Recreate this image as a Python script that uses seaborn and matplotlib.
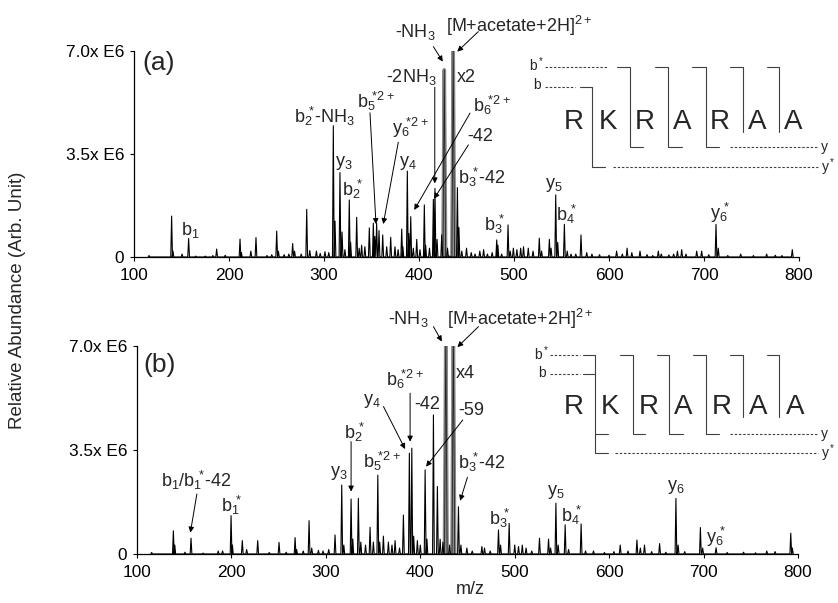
"""Tandem mass spectra of RKRARAA acetate adduct, panels (a) and (b)."""

import matplotlib.pyplot as plt
import seaborn as sns
from matplotlib.lines import Line2D

# ---- panel (a) peaks: m/z and abundance (x 1e6) ----
mz_a = [115.8, 139.6, 141.0, 150.6, 157.5, 165.0, 175.0, 183.0, 187.0, 196.0,
        211.6, 213.0, 223.0, 228.4, 240.0, 245.0, 250.2, 252.0, 258.0, 263.0,
        267.0, 269.0, 276.0, 281.8, 285.0, 292.0, 296.0, 301.0, 305.0, 309.8,
        311.6, 316.8, 319.0, 322.0, 326.6, 328.0, 334.4, 337.0, 339.6, 343.0,
        347.7, 351.9, 353.5, 355.4, 357.9, 361.8, 366.0, 370.2, 374.7, 378.0,
        381.8, 383.0, 387.7, 389.3, 391.3, 394.0, 397.6, 401.0, 405.6, 407.0,
        411.0, 415.1, 416.8, 419.0, 423.9, 430.0, 440.4, 442.0, 445.0, 450.0,
        455.0, 459.0, 464.0, 468.0, 472.0, 477.0, 481.8, 483.0, 487.0, 493.7,
        496.0, 499.3, 503.0, 507.0, 510.0, 515.0, 520.0, 526.6, 529.0, 537.2,
        539.0, 543.9, 546.0, 553.0, 556.0, 560.0, 565.0, 570.5, 576.5, 582.0,
        590.0, 600.0, 608.0, 614.0, 619.0, 624.0, 632.6, 640.0, 646.0, 651.9,
        655.0, 663.0, 668.0, 672.0, 676.5, 681.0, 692.3, 697.5, 705.0, 712.6,
        715.0, 725.0, 738.6, 752.0, 765.9, 775.0, 782.0, 792.9]
int_a = [0.05, 1.39, 0.20, 0.10, 0.63, 0.03, 0.03, 0.05, 0.27, 0.06,
         0.61, 0.15, 0.20, 0.66, 0.05, 0.08, 0.88, 0.20, 0.08, 0.10,
         0.46, 0.20, 0.10, 1.62, 0.22, 0.20, 0.12, 0.18, 0.15, 4.46,
         1.22, 2.87, 0.85, 0.25, 1.94, 0.50, 1.35, 0.30, 0.40, 0.35,
         0.99, 1.15, 0.70, 1.15, 0.90, 0.75, 0.35, 0.67, 0.35, 0.25,
         0.95, 0.35, 2.92, 0.80, 1.37, 0.30, 0.60, 0.25, 1.77, 0.40,
         0.30, 1.96, 2.33, 0.60, 0.75, 0.30, 2.36, 1.00, 0.20, 0.30,
         0.15, 0.10, 0.20, 0.25, 0.10, 0.15, 0.58, 0.40, 0.10, 1.09,
         0.20, 0.30, 0.25, 0.30, 0.35, 0.30, 0.20, 0.64, 0.20, 0.60,
         0.30, 2.11, 0.50, 1.11, 0.20, 0.10, 0.10, 0.75, 0.15, 0.10,
         0.08, 0.06, 0.20, 0.10, 0.30, 0.15, 0.20, 0.08, 0.05, 0.20,
         0.10, 0.07, 0.10, 0.20, 0.25, 0.10, 0.20, 0.20, 0.08, 1.11,
         0.30, 0.05, 0.10, 0.05, 0.10, 0.06, 0.05, 0.25]
# scaled (x2) precursor region, drawn grey
mz_a_scaled = [426.6, 436.0]
int_a_scaled = [6.36, 7.00]

# ---- panel (b) peaks ----
mz_b = [115.5, 138.5, 140.0, 150.8, 157.2, 170.0, 186.0, 190.6, 199.6, 201.0,
        211.5, 216.1, 227.8, 240.0, 250.4, 258.0, 267.4, 269.0, 276.0, 282.2,
        285.0, 292.1, 297.0, 303.0, 309.7, 316.8, 319.0, 326.7, 328.5, 334.4,
        337.0, 342.0, 346.8, 350.3, 355.0, 357.0, 360.9, 366.2, 370.0, 373.3,
        378.0, 382.1, 388.4, 391.0, 393.0, 396.9, 400.0, 405.1, 407.0, 413.9,
        418.1, 421.0, 424.0, 431.0, 440.4, 443.0, 449.3, 455.0, 465.2, 468.0,
        474.0, 482.8, 485.0, 494.1, 500.0, 504.0, 508.0, 512.0, 518.0, 526.2,
        535.8, 538.0, 543.6, 546.0, 553.4, 557.0, 570.3, 575.0, 583.4, 595.0,
        605.0, 611.7, 620.0, 629.4, 633.0, 637.4, 645.0, 653.4, 660.0, 670.7,
        673.0, 680.0, 696.6, 699.0, 713.2, 725.0, 742.3, 755.0, 766.9, 775.7,
        792.3, 794.0]
int_b = [0.05, 0.78, 0.30, 0.06, 0.53, 0.03, 0.10, 0.10, 1.29, 0.30,
         0.45, 0.15, 0.45, 0.05, 0.39, 0.06, 0.55, 0.15, 0.10, 1.12,
         0.20, 0.12, 0.10, 0.15, 0.64, 2.32, 0.30, 1.85, 0.50, 1.87,
         0.40, 0.30, 0.90, 0.40, 2.65, 0.40, 0.60, 0.40, 0.30, 0.45,
         0.20, 1.31, 3.39, 3.56, 0.60, 0.45, 0.30, 2.83, 0.50, 4.68,
         2.27, 0.50, 0.40, 0.30, 1.59, 0.30, 0.20, 0.10, 0.25, 0.20,
         0.10, 0.81, 0.30, 1.03, 0.30, 0.25, 0.30, 0.20, 0.10, 0.53,
         0.50, 0.20, 1.71, 0.30, 0.98, 0.15, 1.01, 0.10, 0.10, 0.05,
         0.08, 0.30, 0.10, 0.47, 0.20, 0.30, 0.08, 0.35, 0.06, 1.87,
         0.30, 0.08, 0.89, 0.20, 0.21, 0.05, 0.06, 0.04, 0.10, 0.08,
         0.70, 0.20]
# scaled (x4) precursor region, off scale
mz_b_scaled = [427.0, 435.0]
int_b_scaled = [7.60, 7.60]

x_ticks = [100, 200, 300, 400, 500, 600, 700, 800]
y_ticks = [0, 3.5, 7.0]
y_tick_labels = ["0", "3.5x E6", "7.0x E6"]
sequence = ["R", "K", "R", "A", "R", "A", "A"]

sns.set_theme(style="ticks")
plt.rcParams["font.family"] = ["Liberation Sans", "DejaVu Sans"]
plt.rcParams["mathtext.default"] = "regular"

W, H = 838, 603
LBL = 13


def ion(base, sub, sup=None):
    """Ion label with subscript followed (not stacked) by a superscript."""
    s = "$%s_{%s}$" % (base, sub)
    if sup:
        s += r"$\!{}^{%s}$" % sup
    return s


def profile(mz, inten, hw=0.9):
    xs, ys = [], []
    for m, h in sorted(zip(mz, inten)):
        xs += [m - hw, m, m + hw]
        ys += [0.0, h, 0.0]
    return xs, ys


def draw_spectrum(ax, mz, inten, mz_s, int_s):
    xs, ys = profile(mz_s, int_s, hw=1.4)
    sns.lineplot(x=xs, y=ys, ax=ax, color="#8a8a8a", lw=2.6,
                 estimator=None, sort=False)
    sns.lineplot(x=xs, y=ys, ax=ax, color="#222222", lw=0.6,
                 estimator=None, sort=False)
    xs, ys = profile(mz, inten)
    sns.lineplot(x=xs, y=ys, ax=ax, color="black", lw=0.8,
                 estimator=None, sort=False)
    ax.set_xlim(100, 800)
    ax.set_ylim(0, 7.0)
    ax.set_xticks(x_ticks)
    ax.set_yticks(y_ticks)
    ax.set_yticklabels(y_tick_labels)
    ax.tick_params(labelsize=12.4, length=3, width=0.8, colors="black")
    ax.tick_params(axis="x", pad=5)
    ax.tick_params(axis="y", pad=4)
    ax.set_xlabel("")
    ax.set_ylabel("")
    sns.despine(ax=ax)
    for s in ("left", "bottom"):
        ax.spines[s].set_color("black")
        ax.spines[s].set_linewidth(0.9)


def label(ax, x, y, s, size=LBL):
    ax.text(x, y, s, fontsize=size, ha="center", va="center", clip_on=False)


def arrow(ax, tail, head):
    ax.annotate("", xy=head, xytext=tail, annotation_clip=False,
                arrowprops=dict(arrowstyle="-|>", color="black", lw=0.7,
                                mutation_scale=8, shrinkA=0, shrinkB=0))


def fig_line(fig, xs, ys, dashed=False):
    fig.add_artist(Line2D([x / W for x in xs], [1 - y / H for y in ys],
                          transform=fig.transFigure, color="#404040", lw=0.8,
                          ls=(0, (2.2, 1.6)) if dashed else "-"))


def fig_text(fig, x, y, s, size, ha="center"):
    fig.text(x / W, 1 - y / H, s, fontsize=size, ha=ha, va="center")


fig = plt.figure(figsize=(8.38, 6.03), dpi=100)
ax_a = fig.add_axes([0.1599, 0.5738, 0.7936, 0.3416])
ax_b = fig.add_axes([0.1635, 0.0813, 0.7888, 0.3450])

# ---------------- panel (a) ----------------
draw_spectrum(ax_a, mz_a, int_a, mz_a_scaled, int_a_scaled)
label(ax_a, 126.3, 6.6, "(a)", size=19)
label(ax_a, 159, 0.92, ion("b", 1))
label(ax_a, 301, 4.76, ion("b", 2, "*") + "-NH$_3$")
label(ax_a, 321, 3.21, ion("y", 3))
label(ax_a, 330.5, 2.31, ion("b", 2, "*"))
label(ax_a, 354.7, 5.28, ion("b", 5, "*2+"))
label(ax_a, 391.3, 4.39, ion("y", 6, "*2+"))
label(ax_a, 388.7, 3.21, ion("y", 4))
label(ax_a, 392.3, 6.11, "-2NH$_3$")
label(ax_a, 395.8, 7.66, "-NH$_3$")
label(ax_a, 506, 7.84, "[M+acetate+2H]$^{2+}$")
label(ax_a, 449.5, 6.11, "x2")
label(ax_a, 476.5, 5.14, ion("b", 6, "*2+"))
label(ax_a, 464.2, 4.09, "-42")
label(ax_a, 466, 2.70, ion("b", 3, "*") + "-42")
label(ax_a, 480, 1.12, ion("b", 3, "*"))
label(ax_a, 541.4, 2.45, ion("y", 5))
label(ax_a, 556, 1.46, ion("b", 4, "*"))
label(ax_a, 717.5, 1.49, ion("y", 6, "*"))
arrow(ax_a, (348.4, 4.90), (354.7, 1.12))
arrow(ax_a, (378.2, 3.90), (362.4, 1.12))
arrow(ax_a, (416.6, 5.77), (416.6, 2.50))
arrow(ax_a, (415.1, 7.15), (425.0, 6.64))
arrow(ax_a, (462.4, 7.66), (440.3, 6.98))
arrow(ax_a, (453.7, 4.89), (395.0, 1.60))
arrow(ax_a, (452.0, 3.81), (415.8, 1.98))

# ---------------- panel (b) ----------------
draw_spectrum(ax_b, mz_b, int_b, mz_b_scaled, int_b_scaled)
label(ax_b, 124.4, 6.36, "(b)", size=19)
label(ax_b, 162.4, 2.49, ion("b", 1) + "/" + ion("b", 1, "*") + "-42")
label(ax_b, 200.3, 1.62, ion("b", 1, "*"))
label(ax_b, 313.2, 2.72, ion("y", 3))
label(ax_b, 331, 4.08, ion("b", 2, "*"))
label(ax_b, 359.2, 3.11, ion("b", 5, "*2+"))
label(ax_b, 348.6, 5.16, ion("y", 4))
label(ax_b, 383.9, 5.86, ion("b", 6, "*2+"))
label(ax_b, 406.9, 5.02, "-42")
label(ax_b, 453.5, 4.83, "-59")
label(ax_b, 387.4, 7.90, "-NH$_3$")
label(ax_b, 505.7, 7.90, "[M+acetate+2H]$^{2+}$")
label(ax_b, 447.5, 6.06, "x4")
label(ax_b, 465.1, 3.08, ion("b", 3, "*") + "-42")
label(ax_b, 484.5, 1.20, ion("b", 3, "*"))
label(ax_b, 543.5, 2.10, ion("y", 5))
label(ax_b, 560.5, 1.31, ion("b", 4, "*"))
label(ax_b, 671, 2.27, ion("y", 6))
label(ax_b, 714, 0.58, ion("y", 6, "*"))
arrow(ax_b, (163.4, 2.02), (156.5, 0.72))
arrow(ax_b, (326.7, 3.78), (326.7, 2.10))
arrow(ax_b, (361.0, 4.96), (383.9, 3.53))
arrow(ax_b, (389.2, 5.41), (389.2, 3.78))
arrow(ax_b, (445.0, 4.51), (406.1, 2.94))
arrow(ax_b, (413.9, 7.65), (422.8, 7.15))
arrow(ax_b, (461.6, 7.65), (439.3, 6.96))
arrow(ax_b, (449.9, 2.58), (442.2, 1.79))

# ---------------- sequence diagrams ----------------
# panel (a)
fig_text(fig, 544, 65, "b$^*$", 10, ha="right")
fig_text(fig, 541, 85, "b", 10, ha="right")
fig_line(fig, [545, 607.3], [67.3, 67.3], dashed=True)
fig_line(fig, [545, 575], [87.3, 87.3], dashed=True)
fig_line(fig, [580, 591.7, 591.7, 605], [87.3, 87.3, 166.7, 166.7])
fig_line(fig, [613.3, 818.3], [166.7, 166.7], dashed=True)
for ts, vx, be in [(616.7, 630, 643.3), (655, 668.3, 681.7), (691.7, 706, 719.3)]:
    fig_line(fig, [ts, vx, vx, be], [67.3, 67.3, 146.7, 146.7])
for ts, vx in [(730, 742.7), (766.7, 779.3)]:
    fig_line(fig, [ts, vx, vx], [67.3, 67.3, 131.7])
fig_line(fig, [730, 818.3], [146.7, 146.7], dashed=True)
fig_text(fig, 821, 146.7, "y", 10, ha="left")
fig_text(fig, 821, 166.7, "y$^*$", 10, ha="left")
for x, aa in zip([573.3, 608.3, 645, 681.7, 720, 756.7, 793.3], sequence):
    fig_text(fig, x, 121.7, aa, 20)

# panel (b)
fig_text(fig, 549, 353.3, "b$^*$", 10, ha="right")
fig_text(fig, 546, 373.3, "b", 10, ha="right")
fig_line(fig, [550, 580], [355, 355], dashed=True)
fig_line(fig, [550, 580], [374, 374], dashed=True)
fig_line(fig, [583.3, 595, 595, 608], [355, 355, 453.3, 453.3])
fig_line(fig, [583.3, 595], [374, 374])
fig_line(fig, [595, 608], [434, 434])
fig_line(fig, [615, 818.3], [453.3, 453.3], dashed=True)
for ts, vx, be in [(620, 632.7, 645), (656.7, 669.3, 682.7), (693.3, 706, 719.3)]:
    fig_line(fig, [ts, vx, vx, be], [355, 355, 434, 434])
for ts, vx in [(730, 742.7), (766.7, 779.3)]:
    fig_line(fig, [ts, vx, vx], [355, 355, 416.7])
fig_line(fig, [730, 818.3], [434, 434], dashed=True)
fig_text(fig, 821, 434, "y", 10, ha="left")
fig_text(fig, 821, 453.3, "y$^*$", 10, ha="left")
for x, aa in zip([573.3, 610, 648.3, 683.3, 721.7, 758.3, 795], sequence):
    fig_text(fig, x, 406.7, aa, 20)

# ---------------- shared axis labels ----------------
fig.text(18 / W, 1 - 300 / H, "Relative Abundance (Arb. Unit)", fontsize=13.5,
         rotation=90, ha="center", va="center")
fig.text(470 / W, 1 - 590 / H, "m/z", fontsize=13, ha="center", va="center")

fig.savefig("out.png", dpi=100)
plt.close(fig)
